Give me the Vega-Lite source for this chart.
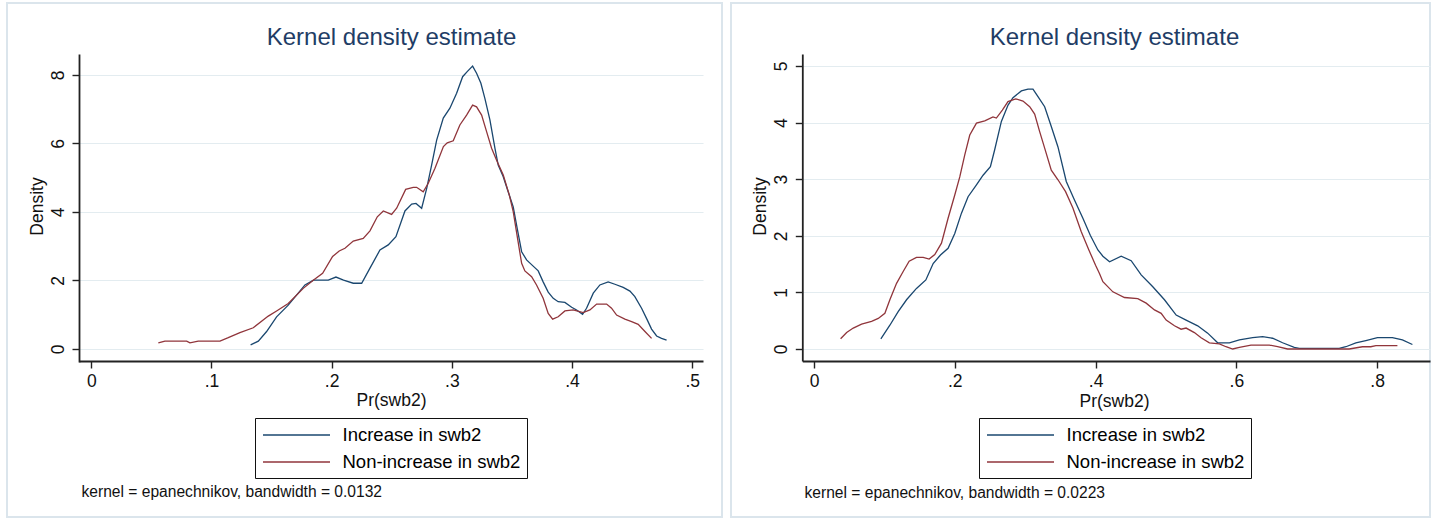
{
  "$schema": "https://vega.github.io/schema/vega-lite/v6.json",
  "background": "white",
  "padding": {"left": 6, "top": 2, "right": 0, "bottom": 0},
  "bounds": "flush",
  "spacing": 9,
  "config": {
    "font": "Liberation Sans",
    "view": {"stroke": "#dbe5ec", "strokeWidth": 2, "fill": "white"},
    "axis": {
      "domainColor": "#222222",
      "domainWidth": 1.8,
      "tickColor": "#222222",
      "tickWidth": 1.4,
      "tickSize": 7,
      "labelFontSize": 17.5,
      "labelColor": "#111111",
      "labelFlush": false,
      "labelOverlap": false,
      "titleFontSize": 17.5,
      "titleFontWeight": "normal",
      "titleColor": "#111111",
      "gridColor": "#e3ecf0",
      "gridWidth": 1.2
    },
    "line": {"strokeWidth": 1.3, "interpolate": "linear"},
    "title": {"fontSize": 24, "fontWeight": "normal", "color": "#1f3d66", "anchor": "middle", "frame": "group", "offset": -47}
  },
  "resolve": {"scale": {"color": "independent"}, "legend": {"color": "independent"}},
  "datasets": {
    "bw0132": [
      {"p": 0.1326, "d": 0.12, "g": "Increase in swb2"},
      {"p": 0.1390, "d": 0.23, "g": "Increase in swb2"},
      {"p": 0.1459, "d": 0.51, "g": "Increase in swb2"},
      {"p": 0.1542, "d": 0.94, "g": "Increase in swb2"},
      {"p": 0.1639, "d": 1.28, "g": "Increase in swb2"},
      {"p": 0.1722, "d": 1.63, "g": "Increase in swb2"},
      {"p": 0.1778, "d": 1.87, "g": "Increase in swb2"},
      {"p": 0.1849, "d": 2.01, "g": "Increase in swb2"},
      {"p": 0.1972, "d": 2.01, "g": "Increase in swb2"},
      {"p": 0.2036, "d": 2.10, "g": "Increase in swb2"},
      {"p": 0.2099, "d": 2.01, "g": "Increase in swb2"},
      {"p": 0.2180, "d": 1.92, "g": "Increase in swb2"},
      {"p": 0.2250, "d": 1.92, "g": "Increase in swb2"},
      {"p": 0.2319, "d": 2.36, "g": "Increase in swb2"},
      {"p": 0.2402, "d": 2.89, "g": "Increase in swb2"},
      {"p": 0.2471, "d": 3.04, "g": "Increase in swb2"},
      {"p": 0.2535, "d": 3.28, "g": "Increase in swb2"},
      {"p": 0.2610, "d": 4.03, "g": "Increase in swb2"},
      {"p": 0.2666, "d": 4.23, "g": "Increase in swb2"},
      {"p": 0.2702, "d": 4.25, "g": "Increase in swb2"},
      {"p": 0.2749, "d": 4.11, "g": "Increase in swb2"},
      {"p": 0.2791, "d": 4.69, "g": "Increase in swb2"},
      {"p": 0.2832, "d": 5.37, "g": "Increase in swb2"},
      {"p": 0.2874, "d": 6.10, "g": "Increase in swb2"},
      {"p": 0.2929, "d": 6.74, "g": "Increase in swb2"},
      {"p": 0.2984, "d": 7.03, "g": "Increase in swb2"},
      {"p": 0.3040, "d": 7.47, "g": "Increase in swb2"},
      {"p": 0.3090, "d": 7.95, "g": "Increase in swb2"},
      {"p": 0.3128, "d": 8.10, "g": "Increase in swb2"},
      {"p": 0.3173, "d": 8.26, "g": "Increase in swb2"},
      {"p": 0.3206, "d": 8.05, "g": "Increase in swb2"},
      {"p": 0.3242, "d": 7.76, "g": "Increase in swb2"},
      {"p": 0.3275, "d": 7.32, "g": "Increase in swb2"},
      {"p": 0.3317, "d": 6.69, "g": "Increase in swb2"},
      {"p": 0.3359, "d": 5.86, "g": "Increase in swb2"},
      {"p": 0.3386, "d": 5.37, "g": "Increase in swb2"},
      {"p": 0.3428, "d": 5.03, "g": "Increase in swb2"},
      {"p": 0.3469, "d": 4.59, "g": "Increase in swb2"},
      {"p": 0.3511, "d": 4.15, "g": "Increase in swb2"},
      {"p": 0.3544, "d": 3.52, "g": "Increase in swb2"},
      {"p": 0.3581, "d": 2.84, "g": "Increase in swb2"},
      {"p": 0.3622, "d": 2.60, "g": "Increase in swb2"},
      {"p": 0.3677, "d": 2.42, "g": "Increase in swb2"},
      {"p": 0.3719, "d": 2.28, "g": "Increase in swb2"},
      {"p": 0.3760, "d": 1.96, "g": "Increase in swb2"},
      {"p": 0.3802, "d": 1.66, "g": "Increase in swb2"},
      {"p": 0.3844, "d": 1.48, "g": "Increase in swb2"},
      {"p": 0.3885, "d": 1.38, "g": "Increase in swb2"},
      {"p": 0.3941, "d": 1.36, "g": "Increase in swb2"},
      {"p": 0.3997, "d": 1.22, "g": "Increase in swb2"},
      {"p": 0.4038, "d": 1.14, "g": "Increase in swb2"},
      {"p": 0.4088, "d": 1.01, "g": "Increase in swb2"},
      {"p": 0.4121, "d": 1.19, "g": "Increase in swb2"},
      {"p": 0.4177, "d": 1.63, "g": "Increase in swb2"},
      {"p": 0.4232, "d": 1.87, "g": "Increase in swb2"},
      {"p": 0.4301, "d": 1.96, "g": "Increase in swb2"},
      {"p": 0.4357, "d": 1.89, "g": "Increase in swb2"},
      {"p": 0.4426, "d": 1.80, "g": "Increase in swb2"},
      {"p": 0.4482, "d": 1.69, "g": "Increase in swb2"},
      {"p": 0.4523, "d": 1.53, "g": "Increase in swb2"},
      {"p": 0.4579, "d": 1.19, "g": "Increase in swb2"},
      {"p": 0.4626, "d": 0.85, "g": "Increase in swb2"},
      {"p": 0.4662, "d": 0.58, "g": "Increase in swb2"},
      {"p": 0.4704, "d": 0.38, "g": "Increase in swb2"},
      {"p": 0.4745, "d": 0.31, "g": "Increase in swb2"},
      {"p": 0.4787, "d": 0.26, "g": "Increase in swb2"},
      {"p": 0.0558, "d": 0.18, "g": "Non-increase in swb2"},
      {"p": 0.0613, "d": 0.23, "g": "Non-increase in swb2"},
      {"p": 0.0794, "d": 0.23, "g": "Non-increase in swb2"},
      {"p": 0.0821, "d": 0.18, "g": "Non-increase in swb2"},
      {"p": 0.0890, "d": 0.23, "g": "Non-increase in swb2"},
      {"p": 0.1071, "d": 0.23, "g": "Non-increase in swb2"},
      {"p": 0.1140, "d": 0.33, "g": "Non-increase in swb2"},
      {"p": 0.1237, "d": 0.48, "g": "Non-increase in swb2"},
      {"p": 0.1348, "d": 0.62, "g": "Non-increase in swb2"},
      {"p": 0.1473, "d": 0.96, "g": "Non-increase in swb2"},
      {"p": 0.1542, "d": 1.11, "g": "Non-increase in swb2"},
      {"p": 0.1639, "d": 1.33, "g": "Non-increase in swb2"},
      {"p": 0.1764, "d": 1.77, "g": "Non-increase in swb2"},
      {"p": 0.1847, "d": 2.01, "g": "Non-increase in swb2"},
      {"p": 0.1925, "d": 2.21, "g": "Non-increase in swb2"},
      {"p": 0.2008, "d": 2.70, "g": "Non-increase in swb2"},
      {"p": 0.2063, "d": 2.86, "g": "Non-increase in swb2"},
      {"p": 0.2111, "d": 2.94, "g": "Non-increase in swb2"},
      {"p": 0.2180, "d": 3.15, "g": "Non-increase in swb2"},
      {"p": 0.2263, "d": 3.23, "g": "Non-increase in swb2"},
      {"p": 0.2319, "d": 3.45, "g": "Non-increase in swb2"},
      {"p": 0.2380, "d": 3.86, "g": "Non-increase in swb2"},
      {"p": 0.2430, "d": 4.03, "g": "Non-increase in swb2"},
      {"p": 0.2499, "d": 3.93, "g": "Non-increase in swb2"},
      {"p": 0.2541, "d": 4.11, "g": "Non-increase in swb2"},
      {"p": 0.2616, "d": 4.66, "g": "Non-increase in swb2"},
      {"p": 0.2679, "d": 4.72, "g": "Non-increase in swb2"},
      {"p": 0.2707, "d": 4.72, "g": "Non-increase in swb2"},
      {"p": 0.2762, "d": 4.59, "g": "Non-increase in swb2"},
      {"p": 0.2804, "d": 4.84, "g": "Non-increase in swb2"},
      {"p": 0.2860, "d": 5.28, "g": "Non-increase in swb2"},
      {"p": 0.2930, "d": 5.91, "g": "Non-increase in swb2"},
      {"p": 0.2962, "d": 6.02, "g": "Non-increase in swb2"},
      {"p": 0.3012, "d": 6.08, "g": "Non-increase in swb2"},
      {"p": 0.3067, "d": 6.54, "g": "Non-increase in swb2"},
      {"p": 0.3123, "d": 6.83, "g": "Non-increase in swb2"},
      {"p": 0.3173, "d": 7.12, "g": "Non-increase in swb2"},
      {"p": 0.3206, "d": 7.07, "g": "Non-increase in swb2"},
      {"p": 0.3248, "d": 6.83, "g": "Non-increase in swb2"},
      {"p": 0.3290, "d": 6.34, "g": "Non-increase in swb2"},
      {"p": 0.3331, "d": 5.86, "g": "Non-increase in swb2"},
      {"p": 0.3378, "d": 5.47, "g": "Non-increase in swb2"},
      {"p": 0.3428, "d": 5.08, "g": "Non-increase in swb2"},
      {"p": 0.3478, "d": 4.50, "g": "Non-increase in swb2"},
      {"p": 0.3511, "d": 4.01, "g": "Non-increase in swb2"},
      {"p": 0.3547, "d": 3.23, "g": "Non-increase in swb2"},
      {"p": 0.3581, "d": 2.50, "g": "Non-increase in swb2"},
      {"p": 0.3608, "d": 2.28, "g": "Non-increase in swb2"},
      {"p": 0.3664, "d": 2.11, "g": "Non-increase in swb2"},
      {"p": 0.3705, "d": 1.87, "g": "Non-increase in swb2"},
      {"p": 0.3760, "d": 1.48, "g": "Non-increase in swb2"},
      {"p": 0.3802, "d": 1.04, "g": "Non-increase in swb2"},
      {"p": 0.3839, "d": 0.87, "g": "Non-increase in swb2"},
      {"p": 0.3885, "d": 0.94, "g": "Non-increase in swb2"},
      {"p": 0.3941, "d": 1.11, "g": "Non-increase in swb2"},
      {"p": 0.4010, "d": 1.14, "g": "Non-increase in swb2"},
      {"p": 0.4093, "d": 1.06, "g": "Non-increase in swb2"},
      {"p": 0.4149, "d": 1.14, "g": "Non-increase in swb2"},
      {"p": 0.4205, "d": 1.31, "g": "Non-increase in swb2"},
      {"p": 0.4288, "d": 1.31, "g": "Non-increase in swb2"},
      {"p": 0.4329, "d": 1.19, "g": "Non-increase in swb2"},
      {"p": 0.4371, "d": 0.99, "g": "Non-increase in swb2"},
      {"p": 0.4440, "d": 0.87, "g": "Non-increase in swb2"},
      {"p": 0.4496, "d": 0.80, "g": "Non-increase in swb2"},
      {"p": 0.4551, "d": 0.72, "g": "Non-increase in swb2"},
      {"p": 0.4607, "d": 0.51, "g": "Non-increase in swb2"},
      {"p": 0.4662, "d": 0.31, "g": "Non-increase in swb2"}
    ],
    "bw0223": [
      {"p": 0.0950, "d": 0.18, "g": "Increase in swb2"},
      {"p": 0.1078, "d": 0.42, "g": "Increase in swb2"},
      {"p": 0.1196, "d": 0.66, "g": "Increase in swb2"},
      {"p": 0.1315, "d": 0.87, "g": "Increase in swb2"},
      {"p": 0.1456, "d": 1.07, "g": "Increase in swb2"},
      {"p": 0.1589, "d": 1.22, "g": "Increase in swb2"},
      {"p": 0.1693, "d": 1.51, "g": "Increase in swb2"},
      {"p": 0.1797, "d": 1.66, "g": "Increase in swb2"},
      {"p": 0.1905, "d": 1.78, "g": "Increase in swb2"},
      {"p": 0.2000, "d": 2.04, "g": "Increase in swb2"},
      {"p": 0.2095, "d": 2.40, "g": "Increase in swb2"},
      {"p": 0.2189, "d": 2.69, "g": "Increase in swb2"},
      {"p": 0.2308, "d": 2.90, "g": "Increase in swb2"},
      {"p": 0.2402, "d": 3.07, "g": "Increase in swb2"},
      {"p": 0.2506, "d": 3.22, "g": "Increase in swb2"},
      {"p": 0.2567, "d": 3.52, "g": "Increase in swb2"},
      {"p": 0.2662, "d": 4.02, "g": "Increase in swb2"},
      {"p": 0.2757, "d": 4.31, "g": "Increase in swb2"},
      {"p": 0.2827, "d": 4.44, "g": "Increase in swb2"},
      {"p": 0.2946, "d": 4.56, "g": "Increase in swb2"},
      {"p": 0.3040, "d": 4.59, "g": "Increase in swb2"},
      {"p": 0.3111, "d": 4.59, "g": "Increase in swb2"},
      {"p": 0.3182, "d": 4.46, "g": "Increase in swb2"},
      {"p": 0.3277, "d": 4.28, "g": "Increase in swb2"},
      {"p": 0.3371, "d": 3.93, "g": "Increase in swb2"},
      {"p": 0.3466, "d": 3.57, "g": "Increase in swb2"},
      {"p": 0.3584, "d": 2.96, "g": "Increase in swb2"},
      {"p": 0.3702, "d": 2.63, "g": "Increase in swb2"},
      {"p": 0.3820, "d": 2.31, "g": "Increase in swb2"},
      {"p": 0.3925, "d": 2.01, "g": "Increase in swb2"},
      {"p": 0.4033, "d": 1.75, "g": "Increase in swb2"},
      {"p": 0.4104, "d": 1.64, "g": "Increase in swb2"},
      {"p": 0.4199, "d": 1.54, "g": "Increase in swb2"},
      {"p": 0.4364, "d": 1.64, "g": "Increase in swb2"},
      {"p": 0.4506, "d": 1.56, "g": "Increase in swb2"},
      {"p": 0.4648, "d": 1.31, "g": "Increase in swb2"},
      {"p": 0.4813, "d": 1.10, "g": "Increase in swb2"},
      {"p": 0.4979, "d": 0.87, "g": "Increase in swb2"},
      {"p": 0.5145, "d": 0.60, "g": "Increase in swb2"},
      {"p": 0.5286, "d": 0.51, "g": "Increase in swb2"},
      {"p": 0.5451, "d": 0.41, "g": "Increase in swb2"},
      {"p": 0.5593, "d": 0.28, "g": "Increase in swb2"},
      {"p": 0.5735, "d": 0.11, "g": "Increase in swb2"},
      {"p": 0.5901, "d": 0.11, "g": "Increase in swb2"},
      {"p": 0.6043, "d": 0.16, "g": "Increase in swb2"},
      {"p": 0.6231, "d": 0.20, "g": "Increase in swb2"},
      {"p": 0.6373, "d": 0.22, "g": "Increase in swb2"},
      {"p": 0.6515, "d": 0.19, "g": "Increase in swb2"},
      {"p": 0.6657, "d": 0.11, "g": "Increase in swb2"},
      {"p": 0.6823, "d": 0.03, "g": "Increase in swb2"},
      {"p": 0.6894, "d": 0.01, "g": "Increase in swb2"},
      {"p": 0.7461, "d": 0.01, "g": "Increase in swb2"},
      {"p": 0.7556, "d": 0.04, "g": "Increase in swb2"},
      {"p": 0.7698, "d": 0.11, "g": "Increase in swb2"},
      {"p": 0.7840, "d": 0.15, "g": "Increase in swb2"},
      {"p": 0.8004, "d": 0.20, "g": "Increase in swb2"},
      {"p": 0.8217, "d": 0.20, "g": "Increase in swb2"},
      {"p": 0.8359, "d": 0.16, "g": "Increase in swb2"},
      {"p": 0.8501, "d": 0.08, "g": "Increase in swb2"},
      {"p": 0.0378, "d": 0.18, "g": "Non-increase in swb2"},
      {"p": 0.0464, "d": 0.29, "g": "Non-increase in swb2"},
      {"p": 0.0558, "d": 0.37, "g": "Non-increase in swb2"},
      {"p": 0.0676, "d": 0.44, "g": "Non-increase in swb2"},
      {"p": 0.0818, "d": 0.49, "g": "Non-increase in swb2"},
      {"p": 0.0913, "d": 0.54, "g": "Non-increase in swb2"},
      {"p": 0.1007, "d": 0.63, "g": "Non-increase in swb2"},
      {"p": 0.1078, "d": 0.87, "g": "Non-increase in swb2"},
      {"p": 0.1173, "d": 1.16, "g": "Non-increase in swb2"},
      {"p": 0.1267, "d": 1.37, "g": "Non-increase in swb2"},
      {"p": 0.1352, "d": 1.55, "g": "Non-increase in swb2"},
      {"p": 0.1456, "d": 1.62, "g": "Non-increase in swb2"},
      {"p": 0.1551, "d": 1.62, "g": "Non-increase in swb2"},
      {"p": 0.1636, "d": 1.59, "g": "Non-increase in swb2"},
      {"p": 0.1716, "d": 1.67, "g": "Non-increase in swb2"},
      {"p": 0.1811, "d": 1.87, "g": "Non-increase in swb2"},
      {"p": 0.1905, "d": 2.31, "g": "Non-increase in swb2"},
      {"p": 0.2000, "d": 2.72, "g": "Non-increase in swb2"},
      {"p": 0.2071, "d": 3.04, "g": "Non-increase in swb2"},
      {"p": 0.2142, "d": 3.43, "g": "Non-increase in swb2"},
      {"p": 0.2213, "d": 3.78, "g": "Non-increase in swb2"},
      {"p": 0.2308, "d": 3.99, "g": "Non-increase in swb2"},
      {"p": 0.2426, "d": 4.03, "g": "Non-increase in swb2"},
      {"p": 0.2543, "d": 4.10, "g": "Non-increase in swb2"},
      {"p": 0.2591, "d": 4.08, "g": "Non-increase in swb2"},
      {"p": 0.2676, "d": 4.22, "g": "Non-increase in swb2"},
      {"p": 0.2756, "d": 4.37, "g": "Non-increase in swb2"},
      {"p": 0.2865, "d": 4.42, "g": "Non-increase in swb2"},
      {"p": 0.2969, "d": 4.38, "g": "Non-increase in swb2"},
      {"p": 0.3064, "d": 4.28, "g": "Non-increase in swb2"},
      {"p": 0.3135, "d": 4.15, "g": "Non-increase in swb2"},
      {"p": 0.3206, "d": 3.84, "g": "Non-increase in swb2"},
      {"p": 0.3277, "d": 3.55, "g": "Non-increase in swb2"},
      {"p": 0.3371, "d": 3.16, "g": "Non-increase in swb2"},
      {"p": 0.3466, "d": 2.99, "g": "Non-increase in swb2"},
      {"p": 0.3574, "d": 2.78, "g": "Non-increase in swb2"},
      {"p": 0.3678, "d": 2.49, "g": "Non-increase in swb2"},
      {"p": 0.3797, "d": 2.07, "g": "Non-increase in swb2"},
      {"p": 0.3905, "d": 1.75, "g": "Non-increase in swb2"},
      {"p": 0.4000, "d": 1.48, "g": "Non-increase in swb2"},
      {"p": 0.4057, "d": 1.33, "g": "Non-increase in swb2"},
      {"p": 0.4104, "d": 1.19, "g": "Non-increase in swb2"},
      {"p": 0.4246, "d": 1.01, "g": "Non-increase in swb2"},
      {"p": 0.4411, "d": 0.91, "g": "Non-increase in swb2"},
      {"p": 0.4600, "d": 0.89, "g": "Non-increase in swb2"},
      {"p": 0.4719, "d": 0.81, "g": "Non-increase in swb2"},
      {"p": 0.4837, "d": 0.69, "g": "Non-increase in swb2"},
      {"p": 0.4932, "d": 0.63, "g": "Non-increase in swb2"},
      {"p": 0.5003, "d": 0.51, "g": "Non-increase in swb2"},
      {"p": 0.5121, "d": 0.41, "g": "Non-increase in swb2"},
      {"p": 0.5215, "d": 0.35, "g": "Non-increase in swb2"},
      {"p": 0.5286, "d": 0.37, "g": "Non-increase in swb2"},
      {"p": 0.5404, "d": 0.29, "g": "Non-increase in swb2"},
      {"p": 0.5499, "d": 0.20, "g": "Non-increase in swb2"},
      {"p": 0.5617, "d": 0.11, "g": "Non-increase in swb2"},
      {"p": 0.5759, "d": 0.09, "g": "Non-increase in swb2"},
      {"p": 0.5853, "d": 0.04, "g": "Non-increase in swb2"},
      {"p": 0.5948, "d": 0.00, "g": "Non-increase in swb2"},
      {"p": 0.6043, "d": 0.03, "g": "Non-increase in swb2"},
      {"p": 0.6208, "d": 0.07, "g": "Non-increase in swb2"},
      {"p": 0.6468, "d": 0.07, "g": "Non-increase in swb2"},
      {"p": 0.6586, "d": 0.04, "g": "Non-increase in swb2"},
      {"p": 0.6728, "d": 0.00, "g": "Non-increase in swb2"},
      {"p": 0.7603, "d": 0.00, "g": "Non-increase in swb2"},
      {"p": 0.7792, "d": 0.04, "g": "Non-increase in swb2"},
      {"p": 0.7911, "d": 0.04, "g": "Non-increase in swb2"},
      {"p": 0.7982, "d": 0.06, "g": "Non-increase in swb2"},
      {"p": 0.8288, "d": 0.06, "g": "Non-increase in swb2"}
    ]
  },
  "hconcat": [
    {
      "width": 715,
      "height": 514,
      "data": {"name": "bw0132"},
      "title": {"text": "Kernel density estimate", "dx": 27},
      "encoding": {
        "y": {
          "field": "d",
          "type": "quantitative",
          "scale": {"domain": [-0.38, 8.613], "range": [359, 51], "nice": false, "zero": false},
          "axis": {
            "title": "Density",
            "values": [0, 2, 4, 6, 8],
            "offset": -72,
            "grid": true,
            "labelAngle": 270,
            "labelAlign": "center",
            "labelBaseline": "alphabetic",
            "labelPadding": 9,
            "titleAngle": 270,
            "titleAlign": "center",
            "titleBaseline": "alphabetic",
            "titleX": -37,
            "titleY": 203
          }
        },
        "color": {
          "field": "g",
          "type": "nominal",
          "scale": {"domain": ["Increase in swb2", "Non-increase in swb2"], "range": ["#1a476f", "#90353b"]},
          "legend": {
            "orient": "none",
            "legendX": 248,
            "legendY": 415,
            "title": null,
            "direction": "vertical",
            "strokeColor": "#111111",
            "fillColor": "white",
            "padding": 6,
            "rowPadding": 6,
            "symbolType": "M-3.35,0H3.35",
            "symbolSize": 400,
            "symbolStrokeWidth": 1.4,
            "symbolOffset": 24.5,
            "labelOffset": 35,
            "labelFontSize": 18.5,
            "labelColor": "#000000",
            "labelLimit": 400
          }
        }
      },
      "layer": [
        {
          "transform": [{"filter": "datum.g === 'Increase in swb2'"}],
          "mark": "line",
          "encoding": {
            "x": {
              "field": "p",
              "type": "quantitative",
              "scale": {"domain": [-0.0102, 0.509], "range": [72, 696], "nice": false, "zero": false},
              "axis": {
                "orient": "bottom",
                "title": "Pr(swb2)",
                "values": [0, 0.1, 0.2, 0.3, 0.4, 0.5],
                "labelExpr": "datum.value == 0 ? '0' : replace(format(datum.value, '.1f'), '0.', '.')",
                "offset": -156,
                "grid": false,
                "labelPadding": 4,
                "titleX": 384,
                "titleY": 44,
                "titleAlign": "center",
                "titleBaseline": "alphabetic"
              }
            }
          }
        },
        {
          "transform": [{"filter": "datum.g !== 'Increase in swb2'"}],
          "mark": "line",
          "encoding": {
            "x": {
              "field": "p",
              "type": "quantitative",
              "scale": {"domain": [-0.0102, 0.509], "range": [72, 696], "nice": false, "zero": false},
              "axis": {
                "orient": "bottom",
                "title": "kernel = epanechnikov, bandwidth = 0.0132",
                "offset": -156,
                "labels": false,
                "ticks": false,
                "domain": false,
                "grid": false,
                "titleFontSize": 15.6,
                "titleX": 74,
                "titleY": 135,
                "titleAlign": "left",
                "titleBaseline": "alphabetic"
              }
            }
          }
        }
      ],
      "resolve": {"axis": {"x": "independent"}}
    },
    {
      "width": 699,
      "height": 514,
      "data": {"name": "bw0223"},
      "title": {"text": "Kernel density estimate", "dx": 34},
      "encoding": {
        "y": {
          "field": "d",
          "type": "quantitative",
          "scale": {"domain": [-0.212, 5.212], "range": [358, 51], "nice": false, "zero": false},
          "axis": {
            "title": "Density",
            "values": [0, 1, 2, 3, 4, 5],
            "offset": -71.3,
            "grid": true,
            "labelAngle": 270,
            "labelAlign": "center",
            "labelBaseline": "alphabetic",
            "labelPadding": 9,
            "titleAngle": 270,
            "titleAlign": "center",
            "titleBaseline": "alphabetic",
            "titleX": -37,
            "titleY": 203
          }
        },
        "color": {
          "field": "g",
          "type": "nominal",
          "scale": {"domain": ["Increase in swb2", "Non-increase in swb2"], "range": ["#1a476f", "#90353b"]},
          "legend": {
            "orient": "none",
            "legendX": 248,
            "legendY": 415,
            "title": null,
            "direction": "vertical",
            "strokeColor": "#111111",
            "fillColor": "white",
            "padding": 6,
            "rowPadding": 6,
            "symbolType": "M-3.35,0H3.35",
            "symbolSize": 400,
            "symbolStrokeWidth": 1.4,
            "symbolOffset": 24.5,
            "labelOffset": 35,
            "labelFontSize": 18.5,
            "labelColor": "#000000",
            "labelLimit": 400
          }
        }
      },
      "layer": [
        {
          "transform": [{"filter": "datum.g === 'Increase in swb2'"}],
          "mark": "line",
          "encoding": {
            "x": {
              "field": "p",
              "type": "quantitative",
              "scale": {"domain": [-0.0166, 0.8751], "range": [71.3, 699], "nice": false, "zero": false},
              "axis": {
                "orient": "bottom",
                "title": "Pr(swb2)",
                "values": [0, 0.2, 0.4, 0.6, 0.8],
                "labelExpr": "datum.value == 0 ? '0' : replace(format(datum.value, '.1f'), '0.', '.')",
                "offset": -156,
                "grid": false,
                "labelPadding": 4,
                "titleX": 383,
                "titleY": 45,
                "titleAlign": "center",
                "titleBaseline": "alphabetic"
              }
            }
          }
        },
        {
          "transform": [{"filter": "datum.g !== 'Increase in swb2'"}],
          "mark": "line",
          "encoding": {
            "x": {
              "field": "p",
              "type": "quantitative",
              "scale": {"domain": [-0.0166, 0.8751], "range": [71.3, 699], "nice": false, "zero": false},
              "axis": {
                "orient": "bottom",
                "title": "kernel = epanechnikov, bandwidth = 0.0223",
                "offset": -156,
                "labels": false,
                "ticks": false,
                "domain": false,
                "grid": false,
                "titleFontSize": 15.6,
                "titleX": 73,
                "titleY": 136,
                "titleAlign": "left",
                "titleBaseline": "alphabetic"
              }
            }
          }
        }
      ],
      "resolve": {"axis": {"x": "independent"}}
    }
  ]
}
